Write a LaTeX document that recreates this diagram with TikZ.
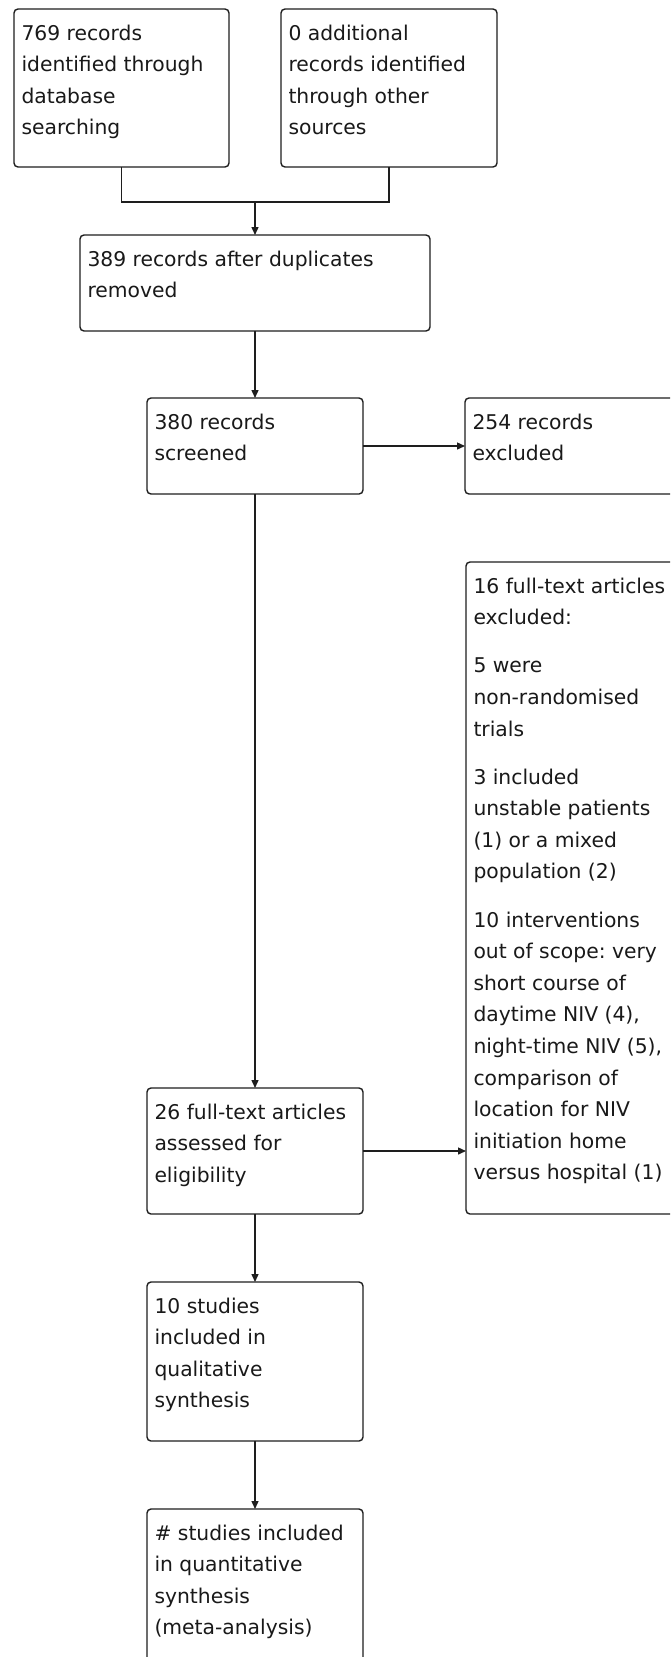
\documentclass[tikz,border=0pt]{standalone}
\usepackage{fontspec}
\setmainfont{DejaVu Sans}
\usetikzlibrary{arrows.meta}
\definecolor{ln}{RGB}{30,30,30}
\definecolor{tx}{RGB}{25,25,25}
\frenchspacing
\newcommand{\bxt}[3]{\parbox[c][#2][t]{#1}{\fontsize{20.3}{31.6}\selectfont\frenchspacing\parindent=0pt\parskip=0pt\leftskip=7.5pt\rightskip=0pt plus 1fil\vspace*{9pt}\strut #3\par}}
\newcommand{\pgap}{\par\vspace{16.5pt}}
\tikzset{
  bx/.style={draw=ln, line width=1.4pt, rounded corners=4pt, inner sep=0pt, outer sep=0pt, text=tx, anchor=north west},
  arr/.style={draw=ln, line width=1.4pt, -{Triangle[length=8pt,width=7pt]}},
  ln/.style={draw=ln, line width=1.4pt}
}
\begin{document}
\begin{tikzpicture}[x=1pt,y=-1pt]
\useasboundingbox (0,0) rectangle (670,1657);
\fill[white] (0,0) rectangle (670,1657);
\clip (0,0) rectangle (670,1657);
\node[bx] (A) at (14,9) {\bxt{215pt}{158pt}{769 records\\identified through\\database\\searching}};
\node[bx] (B) at (281,9) {\bxt{216pt}{158pt}{0 additional\\records identified\\through other\\sources}};
\node[bx] (C) at (80,235) {\bxt{350pt}{96pt}{389 records after duplicates\\removed}};
\node[bx] (D) at (147,398) {\bxt{216pt}{96pt}{380 records\\screened}};
\node[bx] (E) at (465,398) {\bxt{260pt}{96pt}{254 records\\excluded}};
\node[bx] (F) at (466,562) {\bxt{260pt}{652pt}{16 full-text articles\\excluded:\pgap 5 were\\non-randomised\\trials\pgap 3 included\\unstable patients\\(1) or a mixed\\population (2)\pgap 10 interventions\\out of scope: very\\short course of\\daytime NIV (4),\\night-time NIV (5),\\comparison of\\location for NIV\\initiation home\\versus hospital (1)}};
\node[bx] (G) at (147,1088) {\bxt{216pt}{126pt}{26 full-text articles\\assessed for\\eligibility}};
\node[bx] (H) at (147,1282) {\bxt{216pt}{159pt}{10 studies\\included in\\qualitative\\synthesis}};
\node[bx] (I) at (147,1509) {\bxt{216pt}{170pt}{\# studies included\\in quantitative\\synthesis\\(meta-analysis)}};
\coordinate (J) at (255,202);
\draw[ln] (A.south) |- (J);
\draw[ln] (B.south) |- (J);
\draw[arr] (J) -- (C.north);
\draw[arr] (C.south) -- (D.north);
\draw[arr] (D.east) -- (E.west);
\draw[arr] (D.south) -- (G.north);
\draw[arr] (G.east) -- (G.east -| F.west);
\draw[arr] (G.south) -- (H.north);
\draw[arr] (H.south) -- (I.north);
\end{tikzpicture}
\end{document}
